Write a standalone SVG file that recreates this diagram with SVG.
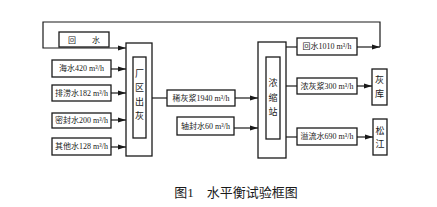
<svg xmlns="http://www.w3.org/2000/svg" width="437" height="207" viewBox="0 0 437 207">
<defs>
<marker id="ah" markerWidth="8" markerHeight="6" refX="8" refY="3" orient="auto" markerUnits="userSpaceOnUse">
<path d="M0,0.5 L8,3 L0,5.5 Z" fill="#1a1a1a"/>
</marker>
</defs>
<style>
.b{fill:#fff;stroke:#1a1a1a;stroke-width:1.3}
.c{fill:none;stroke:#1a1a1a;stroke-width:1.2}
.a{marker-end:url(#ah)}
text{font-family:"Liberation Serif","Noto Sans CJK SC",serif;font-size:8px;fill:#1a1a1a;text-anchor:middle;dominant-baseline:central}
.v{font-size:9px}
.cap{font-size:13px}
</style>
<rect width="437" height="207" fill="#fff"/>
<g id="connectors">
<path class="c a" d="M380,47 L380,22 L43,22 L43,48 L126,48"/>
<path class="c a" d="M111,69 L126,69"/>
<path class="c a" d="M111,93 L126,93"/>
<path class="c a" d="M111,120 L126,120"/>
<path class="c a" d="M111,147 L126,147"/>
<path class="c" d="M152,98 L167,98"/>
<path class="c a" d="M235,98 L258,98"/>
<path class="c a" d="M234,128 L258,128"/>
<path class="c" d="M286,47 L297,47"/>
<path class="c a" d="M357,47 L380,47"/>
<path class="c" d="M286,86 L297,86"/>
<path class="c a" d="M357,86 L372,86"/>
<path class="c" d="M286,137 L297,137"/>
<path class="c a" d="M357,137 L373,137"/>
</g>
<g id="huishui"><rect class="b" x="59" y="32" width="50" height="15"/><text x="84" y="40">回　　水</text></g>
<g id="haishui"><rect class="b" x="52" y="60" width="59" height="17"/><text x="81.5" y="68.5">海水420 m³/h</text></g>
<g id="pailao"><rect class="b" x="52" y="85" width="59" height="16"/><text x="81.5" y="93">排涝水182 m³/h</text></g>
<g id="mifeng"><rect class="b" x="52" y="113" width="59" height="15"/><text x="81.5" y="120.5">密封水200 m³/h</text></g>
<g id="qita"><rect class="b" x="52" y="138" width="59" height="17"/><text x="81.5" y="146.5">其他水128 m³/h</text></g>
<g id="changqu">
<rect class="b" x="126" y="43" width="26" height="113"/>
<rect class="b" x="133" y="57" width="13" height="81"/>
<text class="v" x="139.5" y="74">厂</text><text class="v" x="139.5" y="88">区</text><text class="v" x="139.5" y="102">出</text><text class="v" x="139.5" y="116">灰</text>
</g>
<g id="xihuijiang"><rect class="b" x="167" y="90" width="68" height="16"/><text x="201" y="98">稀灰浆1940 m³/h</text></g>
<g id="zhoufeng"><rect class="b" x="177" y="117" width="57" height="18"/><text x="205.5" y="126">轴封水60 m³/h</text></g>
<g id="nongsuo">
<rect class="b" x="258" y="42" width="28" height="116"/>
<rect class="b" x="266" y="57" width="14" height="82"/>
<text class="v" x="273" y="83">浓</text><text class="v" x="273" y="98">缩</text><text class="v" x="273" y="112">站</text>
</g>
<g id="huishui2"><rect class="b" x="297" y="38" width="60" height="17"/><text x="327" y="46.5">回水1010 m³/h</text></g>
<g id="nonghuijiang"><rect class="b" x="297" y="78" width="60" height="16"/><text x="327" y="86">浓灰浆300 m³/h</text></g>
<g id="yiliu"><rect class="b" x="297" y="128" width="60" height="17"/><text x="327" y="136.5">溢流水690 m³/h</text></g>
<g id="huiku"><rect class="b" x="372" y="69" width="15" height="36"/><text class="v" x="379.5" y="80">灰</text><text class="v" x="379.5" y="94">库</text></g>
<g id="songjiang"><rect class="b" x="373" y="119" width="14" height="36"/><text class="v" x="380" y="131">松</text><text class="v" x="380" y="144">江</text></g>
<text class="cap" x="236" y="192.5">图1　水平衡试验框图</text>
</svg>
